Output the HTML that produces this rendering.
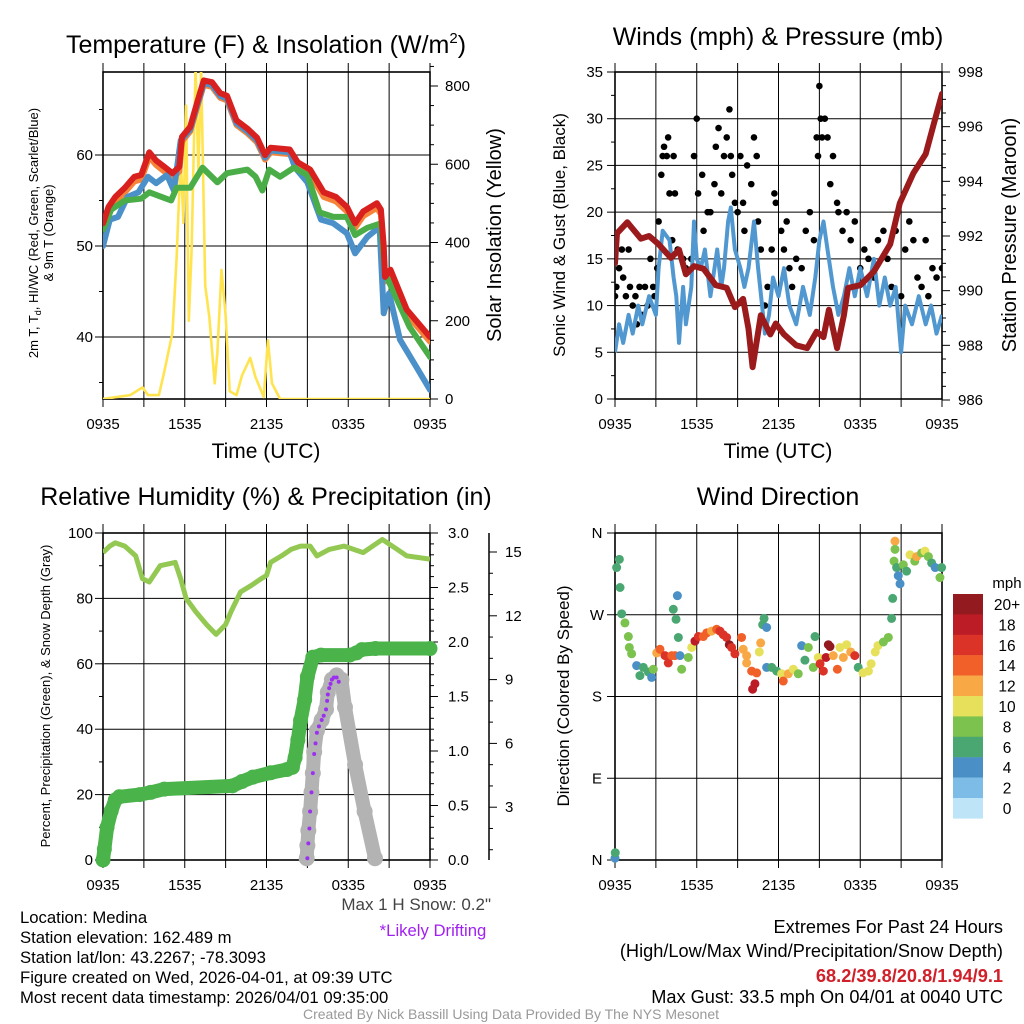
<!DOCTYPE html>
<html><head><meta charset="utf-8"><style>
html,body{margin:0;padding:0;background:#fff;}
svg{display:block;font-family:"Liberation Sans",Arial,sans-serif;}
</style></head><body>
<svg id="chart" width="1024" height="1024" viewBox="0 0 1024 1024">
<defs>
<clipPath id="c1"><rect x="103" y="72" width="327" height="327"/></clipPath>
<clipPath id="c2"><rect x="615" y="72" width="327" height="327"/></clipPath>
<clipPath id="c3"><rect x="103" y="533" width="327" height="327"/></clipPath>
<clipPath id="c4"><rect x="615" y="533" width="327" height="327"/></clipPath>
</defs>
<g id="g1"></g>
<g id="g2"></g>
<g id="g3"></g>
<g id="g4"></g>
<g font-size="25" text-anchor="middle" fill="#000">
<text x="266" y="53">Temperature (F) &amp; Insolation (W/m<tspan dy="-10" font-size="15">2</tspan><tspan dy="10">)</tspan></text>
<text x="778" y="45">Winds (mph) &amp; Pressure (mb)</text>
<text x="266" y="505">Relative Humidity (%) &amp; Precipitation (in)</text>
<text x="778" y="505">Wind Direction</text>
</g>
<g fill="#000" text-anchor="middle">
<text x="266" y="458" font-size="21">Time (UTC)</text>
<text x="778" y="458" font-size="21">Time (UTC)</text>
<text transform="translate(38,233) rotate(-90)" font-size="13">2m T, T<tspan dy="3" font-size="9">d</tspan><tspan dy="-3">, HI/WC (Red, Green, Scarlet/Blue)</tspan></text>
<text transform="translate(53,233) rotate(-90)" font-size="13">&amp; 9m T (Orange)</text>
<text transform="translate(501,235) rotate(-90)" font-size="20">Solar Insolation (Yellow)</text>
<text transform="translate(565,235) rotate(-90)" font-size="17">Sonic Wind &amp; Gust (Blue, Black)</text>
<text transform="translate(1016,235) rotate(-90)" font-size="20">Station Pressure (Maroon)</text>
<text transform="translate(50,696) rotate(-90)" font-size="13">Percent, Precipitation (Green), &amp; Snow Depth (Gray)</text>
<text transform="translate(569,696) rotate(-90)" font-size="17">Direction (Colored By Speed)</text>
</g>
<g font-size="16.7" fill="#000">
<text x="20" y="923">Location: Medina</text>
<text x="20" y="943">Station elevation: 162.489 m</text>
<text x="20" y="963">Station lat/lon: 43.2267; -78.3093</text>
<text x="20" y="983">Figure created on Wed, 2026-04-01, at 09:39 UTC</text>
<text x="20" y="1003">Most recent data timestamp: 2026/04/01 09:35:00</text>
<text x="491" y="910" text-anchor="end" fill="#444" font-size="17">Max 1 H Snow: 0.2"</text>
<text x="433" y="936" text-anchor="middle" fill="#a020f0">*Likely Drifting</text>
<g text-anchor="end" font-size="18.2">
<text x="1003" y="933">Extremes For Past 24 Hours</text>
<text x="1003" y="957">(High/Low/Max Wind/Precipitation/Snow Depth)</text>
<text x="1003" y="982" fill="#d0202a" font-weight="bold">68.2/39.8/20.8/1.94/9.1</text>
<text x="1003" y="1003">Max Gust: 33.5 mph On 04/01 at 0040 UTC</text>
</g>
<text x="511" y="1019" text-anchor="middle" font-size="14" fill="#999">Created By Nick Bassill Using Data Provided By The NYS Mesonet</text>
</g>
</svg>
<script>
// ---- data (hours since 0935 UTC) ----
const xTickLabels = ["0935","1535","2135","0335","0935"];
const redT = [0,0.4,0.9,1.6,2.3,2.8,3.4,3.9,4.5,5.1,5.6,5.8,6.4,6.9,7.4,8.0,8.6,9.1,9.8,10.6,11.3,11.9,12.3,13.7,14.3,15.2,16.2,17.1,17.9,18.5,19.1,20.1,20.4,20.6,20.7,21.1,22.3,24];
const redV = [52.5,54.3,55.4,56.4,57.6,57.8,60.3,59.4,58.7,58,58.7,62,63.1,65.7,68.2,68,66.8,66.5,63.8,62.9,61.9,60,60.8,60.6,59.2,58.4,55.9,55.4,54.3,52.5,53.8,54.7,54,50,46.6,47.4,43,40];
const greenT = [0,0.6,1.6,2.8,3.4,4.3,5.0,5.4,6.4,7.3,8.4,9.1,10.6,11.2,11.7,12.2,13.0,14,15,15.9,16.9,17.9,18.5,19.4,20.4,20.7,22.5,24];
const greenV = [51.8,54,55,55.2,55.9,55.4,55,56.4,56.4,58.6,57,58,58.4,57.6,56.1,58.4,57.6,58.6,57.8,53.7,53.2,53.2,51.2,52,52.5,47,41.1,37.8];
const blueT = [0,0.5,1.1,1.8,2.6,3.3,3.9,4.7,5.2,5.7,6.4,6.9,7.4,8.0,8.6,9.1,9.8,10.6,11.3,11.9,12.3,13.7,14.1,15,16,16.9,17.9,18.5,19.4,20.3,20.6,21,21.8,23,24];
const blueV = [50,52.9,53.2,55.4,55.9,57.6,56.9,57.8,56.1,61.6,62.8,65.4,67.9,67.7,66.5,66.2,63.5,62.6,61.6,59.7,60.5,60.3,58.6,57,52.9,52.5,51.4,49.2,51,52.1,42.6,44.8,39.7,36.7,34.2];
const solarT = [0,2,2.9,3.3,4.1,4.5,5.1,5.4,5.7,5.9,6.1,6.3,6.5,6.8,7.0,7.2,7.5,7.8,8.2,8.4,8.7,9.0,9.3,9.8,10.2,10.8,11.2,11.8,12.1,12.4,13,24];
const solarV = [0,10,30,10,10,70,170,360,620,450,750,200,380,850,580,850,290,210,40,120,330,215,20,10,60,105,55,5,150,40,0,0];
const windT = [0,0.3,0.6,1,1.3,1.7,2,2.5,3,3.2,3.5,4,4.3,4.5,4.7,5,5.2,5.6,5.8,6,6.3,6.6,7,7.3,7.5,7.8,8,8.3,8.5,8.8,9.2,9.5,9.8,10.2,10.5,10.8,11,11.3,11.6,12,12.4,12.8,13.3,13.8,14.3,14.7,15,15.3,15.6,16,16.4,16.8,17.2,17.6,18,18.5,19,19.4,19.8,20.2,20.6,21,21.3,21.8,22.3,22.8,23.2,23.6,24];
const windV = [5,8,6,9,7,10,8,11,9,14,18,17,13,11,6,12,8,12,19,15,14,16,11,14,16,12,14,19,20.5,16,14,12,14,19,14,10,7,9,13,11,14,10,8,12,9,13,17,19,16,12,9,11,14,11,14,11,15,10,13,10,12,5,10,8,11,8,10,7,9];
const gustT = [0,0.1,0.3,0.5,0.6,0.8,1,1.1,1.3,1.5,1.6,1.8,2,2.2,2.4,2.6,2.8,2.9,3.1,3.2,3.4,3.5,3.6,3.8,3.9,4,4.2,4.3,4.4,4.6,5,5.2,5.6,5.8,6,6.1,6.4,6.5,6.8,7,7.3,7.4,7.6,7.8,8,8.2,8.4,8.5,8.6,8.8,9,9.2,9.4,9.5,9.7,10,10.2,10.4,10.5,10.7,11,11.2,11.5,11.7,11.8,12.2,12.4,12.6,12.8,13,13.3,13.7,14,14.3,14.6,14.8,14.9,15,15.1,15.2,15.4,15.6,15.8,16,16.3,16.4,16.7,17,17.3,17.6,18,18.3,18.6,19,19.3,19.7,20,20.3,20.6,21,21.3,21.6,21.9,22.2,22.5,22.8,23,23.3,23.6,24];
const gustV = [11,12,14,16,13,11,16,12,10,11,8,12,9,12,10,15,12,11,14,19,24,26,27,26,28,22,17,26,22,16,15,14,15,26,30,22,24,18,20,20,23,27,29,22,26,28,31,26,24,21,20,26,21,18,25,23,28,26,19,16,10,12,16,22,21,18,16,19,14,12,15,14,18,20,17,28,26,33.5,30,28,30,28,23,26,21,20,18,20,17,19,14,16,15,13,17,18,15,12,18,11,16,19,17,13,12,17,11,14,13,14];
const presT = [0,0.15,0.9,1.9,2.5,3.2,4.1,4.7,5.2,5.8,6.5,7.4,8.2,8.8,9.4,9.8,10.1,10.7,11.4,11.8,12.4,13.3,14.1,14.8,15.3,15.7,16.3,16.8,17.1,18,19,20.2,20.9,21.9,22.8,23.4,24];
const presV = [991,992.1,992.5,991.9,992,991.7,991.2,991.5,990.6,990.9,990.8,990.2,990.1,989.4,989.7,988.6,987.2,989.1,988.4,988.8,988.4,988,987.9,988.5,988.3,989.3,987.9,989.1,990.1,990.2,990.7,991.7,993.2,994.3,995,996.1,997.2];
const rhT = [0,0.5,0.9,1.6,2.4,2.9,3.4,4.2,5.3,5.7,6.1,6.8,7.6,8.3,9.0,9.4,10.1,10.9,11.6,12.0,12.3,13.1,13.8,14.5,15.2,15.7,16.6,17.7,19.1,20.5,21.6,22.3,24];
const rhV = [94,96,97,96,93,86,85,90,91,86,80,76,72,69,72,76,82,84,86,87,91,93,95,96,96,93,95,96,94,98,95,93,92];
const precipT = [0,0.1,0.3,0.6,0.9,1.2,2.7,3.5,4.5,9.5,10.2,11,12.3,13.5,13.9,14.1,14.3,14.5,14.8,15.0,15.4,16,18.1,18.6,19,20.0,24];
const precipV = [0,0.1,0.3,0.45,0.55,0.58,0.6,0.62,0.65,0.68,0.72,0.76,0.8,0.83,0.85,0.94,1.1,1.28,1.47,1.68,1.86,1.88,1.88,1.9,1.93,1.94,1.94];
const snowT = [14.95,15.0,15.07,15.2,15.3,15.4,15.5,15.7,16.05,16.37,16.5,16.8,17.15,17.5,17.76,18.5,19.2,19.96];
const snowV = [0.6,1.2,1.9,2.8,3.7,4.6,5.6,6.6,7.1,7.6,8.4,9.0,9.2,9.0,7.7,5.0,2.8,0.6];
const driftT = [15.0,15.07,15.15,15.2,15.3,15.4,15.5,15.6,15.7,15.85,16.05,16.2,16.37,16.45,16.5,16.6,16.7,16.8,16.95,17.15,17.3];
const driftV = [0.6,1.3,2.0,2.8,3.7,4.6,5.5,6.0,6.5,6.8,7.1,7.3,7.6,8.0,8.3,8.6,8.8,9.0,9.1,9.1,8.9];
const dirT = [0,0.02,0.12,0.32,0.37,0.49,0.73,0.98,1.05,1.22,1.59,1.83,2.08,2.45,2.69,2.81,3.06,3.3,3.67,3.91,4.16,4.4,4.58,4.28,4.48,4.65,4.77,4.89,5.38,5.63,5.87,6.12,6.48,6.73,7.09,7.46,7.7,7.95,8.19,8.39,8.56,8.8,9.29,9.41,9.66,9.66,10.03,10.4,10.27,10.1,10.59,10.69,10.84,10.94,11.13,11.13,11.5,11.87,12.23,12.35,12.72,13.09,13.45,13.7,13.94,14.19,14.55,14.68,14.92,15.05,15.29,15.49,15.66,15.78,16.02,16.32,16.51,16.76,17.0,17.3,17.6,17.85,18.2,18.6,18.8,19.1,19.3,19.7,20.06,20.3,20.38,20.55,20.55,20.48,20.67,20.79,20.92,21.16,21.4,21.65,22.0,22.14,22.5,22.75,23.0,23.24,23.5,23.85,23.97];
const dirV = [2,8,322,331,300,271,261,246,234,227,214,203,212,207,201,210,228,232,225,217,225,225,291,276,265,245,225,210,223,234,241,246,246,250,252,254,252,248,245,237,234,227,245,232,225,217,208,206,194,188,229,239,259,266,256,212,212,208,205,197,205,210,205,236,220,234,212,246,223,216,208,223,237,235,225,210,234,223,237,229,225,212,206,208,216,229,236,240,245,266,288,351,342,329,322,313,304,325,318,336,329,334,338,340,334,327,322,311,322];
const dirSpd = [4,7,6,6,6,6,8,8,9,8,5,7,7,6,5,9,13,15,17,16,15,14,4,7,7,7,5,9,9,10,18,17,15,15,13,15,16,16,17,20,17,17,14,12,12,12,15,14,18,18,10,12,7,6,4,4,6,6,10,14,12,10,8,5,7,9,9,6,10,17,16,18,20,20,12,14,11,12,11,13,16,7,10,10,10,10,11,8,8,7,6,12,8,8,6,4,4,8,7,10,8,12,8,10,8,6,5,8,7];
const speedBins = ["20+","18","16","14","12","10","8","6","4","2","0"];
const speedColors = ["#931a1e","#bc1c26","#dc3328","#f06028","#f8a844","#e6e05a","#7bc24e","#4aa771","#4a8fc5","#7cbce6","#bde4f7"];

const NS = "http://www.w3.org/2000/svg";
function mk(tag, attrs, parent){const e=document.createElementNS(NS,tag);for(const k in attrs)e.setAttribute(k,attrs[k]);parent.appendChild(e);return e;}
function txt(s, attrs, parent){const e=mk("text",attrs,parent);e.textContent=s;return e;}
function xs(x0){return h=>x0+h*327/24;}
function lin(d0,d1,r0,r1){return v=>r0+(v-d0)*(r1-r0)/(d1-d0);}
function pathD(T,V,fx,fy){return T.map((t,i)=>(i?"L":"M")+fx(t).toFixed(1)+","+fy(V[i]).toFixed(1)).join("");}

function frame(g, x0, y0, yGrid){
  const X=xs(x0), y1=y0+327;
  for(let h=3;h<24;h+=3){
    const l=mk("line",{x1:X(h),x2:X(h),y1:y0-9,y2:y1+8,stroke:"#000","stroke-width":1},g);
    
    
  }
  yGrid.forEach(y=>{
    const l=mk("line",{x1:x0,x2:x0+327,y1:y,y2:y,stroke:"#000","stroke-width":1},g);
    
    
  });
  [0,24].forEach(h=>{mk("line",{x1:X(h),x2:X(h),y1:y0-9,y2:y1+8,stroke:"#000","stroke-width":1},g);});
  const b=mk("rect",{x:x0,y:y0,width:327,height:327,fill:"none",stroke:"#000","stroke-width":1.6},g);
  
  
  xTickLabels.forEach((s,i)=>{
    const t=txt(s,{x:X(i*6),y:y1+30,"font-size":15,"text-anchor":"middle"},g);
    
    
  });
}
function yTicks(g, x, vals, fy, side, labels, minor, lx, anchor){
  vals.forEach((v,i)=>{
    mk("line",{x1:x,x2:x+side*8,y1:fy(v),y2:fy(v),stroke:"#000","stroke-width":1},g);
    if(labels[i]!==null){
      const t=txt(labels[i],{x:lx,y:fy(v)+5,"font-size":15,"text-anchor":anchor},g);
      
      
    }
  });
  minor.forEach(v=>mk("line",{x1:x,x2:x+side*4,y1:fy(v),y2:fy(v),stroke:"#000","stroke-width":1},g));
}

// ===== Panel 1 =====
(function(){
  const g=document.getElementById("g1"), X=xs(103);
  const yT=lin(50,60,246,155), yS=lin(0,800,399,86);
  frame(g,103,72,[155,246,337]);
  yTicks(g,103,[40,50,60],yT,-1,["40","50","60"],[35,45,55,65],93,"end");
  yTicks(g,430,[0,200,400,600,800],yS,1,["0","200","400","600","800"],[50,100,150,250,300,350,450,500,550,650,700,750,850],445,"start");
  const c=mk("g",{"clip-path":"url(#c1)"},g);
  const s=[["solar-line",solarT,solarV,yS,"#ffe450",2.6],["temp-9m-orange",redT,redV.map(v=>v-0.5),yT,"#f5843a",6],["dewpoint-green",greenT,greenV,yT,"#4aad48",6],["temp-red",redT,redV,yT,"#d8201f",6],["heat-index-blue",blueT,blueV,yT,"#4b90c8",6]];
  const order=[0,1,4,2,3];
  order.forEach(i=>{const [n,T,V,fy,col,w]=s[i];
    const p=mk("path",{d:pathD(T,V,X,fy),fill:"none",stroke:col,"stroke-width":w,"stroke-linejoin":"round","stroke-linecap":"round"},c);
    
    
  });
})();

// ===== Panel 2 =====
(function(){
  const g=document.getElementById("g2"), X=xs(615);
  const yW=lin(0,35,399,72), yP=lin(986,998,400,72);
  frame(g,615,72,[118.7,165.4,212.1,258.9,305.6,352.3]);
  yTicks(g,615,[0,5,10,15,20,25,30,35],yW,-1,["0","5","10","15","20","25","30","35"],[2.5,7.5,12.5,17.5,22.5,27.5,32.5],603,"end");
  const pm=[];for(let p=986.5;p<998;p+=0.5){if(p%2)pm.push(p);}
  yTicks(g,942,[986,988,990,992,994,996,998],yP,1,["986","988","990","992","994","996","998"],pm,958,"start");
  const c=mk("g",{"clip-path":"url(#c2)"},g);
  const gw=mk("g",{},c);
  
  
  gustT.forEach((t,i)=>{
    const d=mk("circle",{cx:X(t),cy:yW(gustV[i]),r:3.3,fill:"#000"},gw);
    
    
  });
  const w=mk("path",{d:pathD(windT,windV,X,yW),fill:"none",stroke:"#5198d0","stroke-width":4,"stroke-linejoin":"round"},c);
  
  
  const p=mk("path",{d:pathD(presT,presV,X,yP),fill:"none",stroke:"#9b1a1c","stroke-width":6,"stroke-linejoin":"round","stroke-linecap":"round"},c);
  
  
})();

// ===== Panel 3 =====
(function(){
  const g=document.getElementById("g3"), X=xs(103);
  const yR=lin(0,100,860,533), yPr=lin(0,3,860,533), ySn=lin(0,15,871,552);
  frame(g,103,533,[598.4,663.8,729.2,794.6]);
  yTicks(g,103,[0,20,40,60,80,100],yR,-1,["0","20","40","60","80","100"],[10,30,50,70,90],93,"end");
  const pm=[];for(let v=0.1;v<3;v+=0.1){if(Math.abs(v*2-Math.round(v*2))>0.01)pm.push(v);}
  yTicks(g,430,[0,0.5,1,1.5,2,2.5,3],yPr,1,["0.0","0.5","1.0","1.5","2.0","2.5","3.0"],pm,448,"start");
  const ax=mk("line",{x1:489,x2:489,y1:533,y2:860,stroke:"#000","stroke-width":1.5},g);
  
  
  const sm=[];for(let v=1;v<16;v++){if(v%3)sm.push(v);}
  yTicks(g,489,[3,6,9,12,15],ySn,1,["3","6","9","12","15"],sm,505,"start");
  const c=mk("g",{"clip-path":"url(#c3)"},g);
  const rh=mk("path",{d:pathD(rhT,rhV,X,yR),fill:"none",stroke:"#93c952","stroke-width":5,"stroke-linejoin":"round"},c);
  
  
  const pr=mk("path",{d:pathD(precipT,precipV,X,yPr),fill:"none",stroke:"#4ab34a","stroke-width":14,"stroke-linejoin":"round","stroke-linecap":"round"},g);
  
  
  precipT.forEach((t,i)=>{
    const d=mk("circle",{cx:X(t),cy:yPr(precipV[i]),r:7.5,fill:"#4ab34a"},g);
    
    
  });
  const sn=mk("path",{d:pathD(snowT,snowV,X,ySn),fill:"none",stroke:"#b3b3b3","stroke-width":14,"stroke-linejoin":"round","stroke-linecap":"round"},g);
  
  
  snowT.forEach((t,i)=>{
    const d=mk("circle",{cx:X(t),cy:ySn(snowV[i]),r:8,fill:"#b3b3b3"},g);
    
    
  });
  driftT.forEach((t,i)=>{
    const d=mk("circle",{cx:X(t),cy:ySn(driftV[i]),r:2,fill:"#9b30f0"},g);
    
    
  });
})();

// ===== Panel 4 =====
(function(){
  const g=document.getElementById("g4"), X=xs(615);
  const yD=lin(0,360,860,533);
  frame(g,615,533,[614.75,696.5,778.25]);
  yTicks(g,615,[0,90,180,270,360],yD,-1,["N","E","S","W","N"],[],597,"middle");
  const c=mk("g",{},g);
  dirT.forEach((t,i)=>{
    const s=dirSpd[i]; const bin=Math.min(10,Math.floor(s/2)); const col=speedColors[10-bin];
    const d=mk("circle",{cx:X(t),cy:yD(dirV[i]),r:4.5,fill:col},c);
    
    
  });
  const cb=mk("g",{},g);
  
  
  const t0=txt("mph",{x:1007,y:588,"font-size":15,"text-anchor":"middle"},cb);
  
  
  speedBins.forEach((s,i)=>{
    const r=mk("rect",{x:953,y:594+i*20.4,width:30,height:20.6,fill:speedColors[i]},cb);
    
    
    const t=txt(s,{x:1007,y:594+i*20.4+16,"font-size":15.5,"text-anchor":"middle"},cb);
    
    
  });
})();
</script>
</body></html>
